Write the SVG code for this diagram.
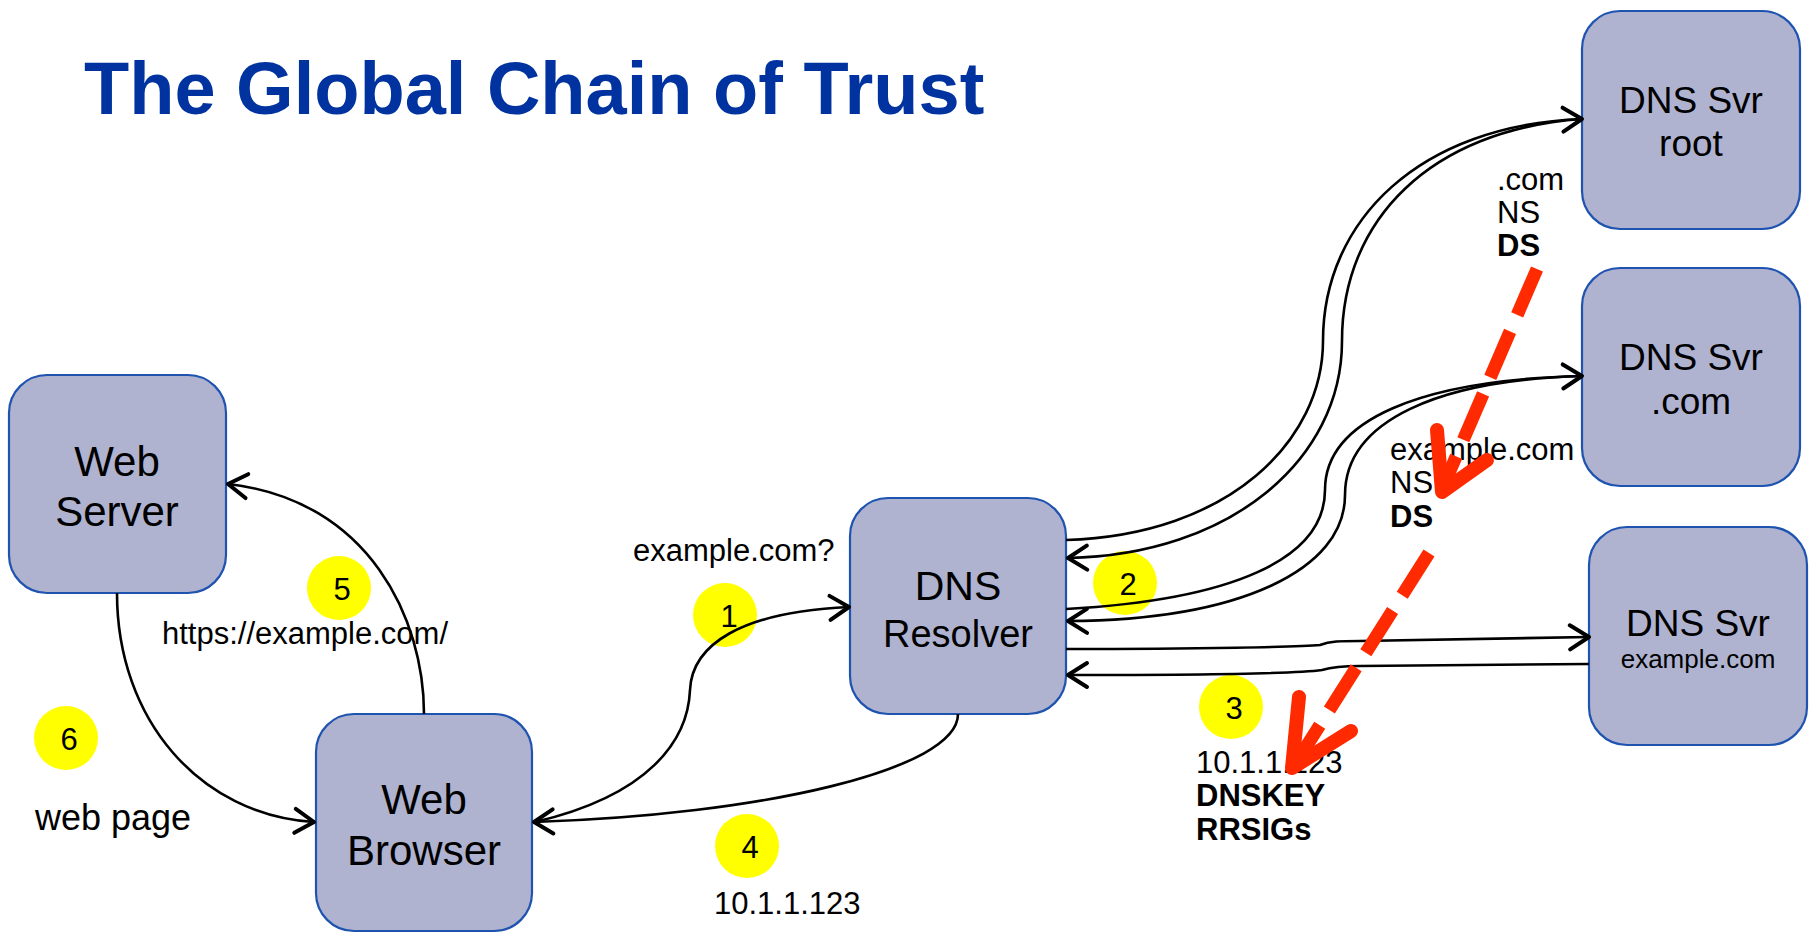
<svg xmlns="http://www.w3.org/2000/svg" width="1810" height="933" viewBox="0 0 1810 933">
<defs>
<style>
.node{fill:#afb3d0;stroke:#1f53b0;stroke-width:2.2}
.nt{font-family:"Liberation Sans",Arial,sans-serif;font-size:42px;fill:#000;text-anchor:middle}
.st{font-family:"Liberation Sans",Arial,sans-serif;font-size:37px;fill:#000;text-anchor:middle}
.lb{font-family:"Liberation Sans",Arial,sans-serif;font-size:31px;fill:#000}
.b{font-weight:bold}
.num{font-family:"Liberation Sans",Arial,sans-serif;font-size:31px;fill:#000;text-anchor:middle}
.dot{fill:#ffff00}
.con{fill:none;stroke:#000;stroke-width:2.6}
.red{fill:none;stroke:#ff2a00;stroke-width:13;stroke-dasharray:50 18}
.redh{fill:none;stroke:#ff2a00;stroke-width:14;stroke-linecap:round;stroke-linejoin:round}
</style>
<marker id="ah" markerUnits="userSpaceOnUse" markerWidth="30" markerHeight="30" viewBox="0 0 30 30" refX="27" refY="15" orient="auto">
<path d="M8,3 L27,15 L8,27" fill="none" stroke="#000" stroke-width="4" stroke-linecap="round" stroke-linejoin="round"/>
</marker>
</defs>
<rect width="1810" height="933" fill="#fff"/>
<text x="84" y="114" font-family="'Liberation Sans',Arial,sans-serif" font-size="74" font-weight="bold" fill="#0033a0">The Global Chain of Trust</text>

<g id="steps">
<ellipse class="dot" cx="725" cy="615" rx="32" ry="32"/>
<text class="num" x="729" y="627">1</text>
<ellipse class="dot" cx="1125" cy="583" rx="32" ry="32"/>
<text class="num" x="1128" y="595">2</text>
<ellipse class="dot" cx="1231" cy="707" rx="32" ry="32"/>
<text class="num" x="1234" y="719">3</text>
<ellipse class="dot" cx="747" cy="846" rx="32" ry="32"/>
<text class="num" x="750" y="858">4</text>
<ellipse class="dot" cx="339" cy="588" rx="32" ry="32"/>
<text class="num" x="342" y="600">5</text>
<ellipse class="dot" cx="66" cy="738" rx="32" ry="32"/>
<text class="num" x="69" y="750">6</text>
</g>

<g id="labels">
<text class="lb" x="633" y="561">example.com?</text>
<text class="lb" x="162" y="644">https://example.com/</text>
<text class="lb" x="35" y="830" style="font-size:36px">web page</text>
<text class="lb" x="714" y="914">10.1.1.123</text>
<text class="lb" x="1497" y="190">.com</text>
<text class="lb" x="1497" y="223">NS</text>
<text class="lb b" x="1497" y="256">DS</text>
<text class="lb" x="1390" y="460">example.com</text>
<text class="lb" x="1390" y="493">NS</text>
<text class="lb b" x="1390" y="527">DS</text>
<text class="lb" x="1196" y="773">10.1.1.123</text>
<text class="lb b" x="1196" y="806">DNSKEY</text>
<text class="lb b" x="1196" y="840">RRSIGs</text>
</g>

<g id="web-server">
<rect class="node" x="9" y="375" width="217" height="218" rx="38"/>
<text class="nt" x="117" y="476">Web</text>
<text class="nt" x="117" y="526">Server</text>
</g>
<g id="web-browser">
<rect class="node" x="316" y="714" width="216" height="217" rx="38"/>
<text class="nt" x="424" y="814">Web</text>
<text class="nt" x="424" y="865">Browser</text>
</g>
<g id="dns-resolver">
<rect class="node" x="850" y="498" width="216" height="216" rx="38"/>
<text class="nt" x="958" y="600" style="font-size:41px">DNS</text>
<text class="nt" x="958" y="647" style="font-size:38px">Resolver</text>
</g>
<g id="dns-root">
<rect class="node" x="1582" y="11" width="218" height="218" rx="38"/>
<text class="st" x="1691" y="113">DNS Svr</text>
<text class="st" x="1691" y="156">root</text>
</g>
<g id="dns-com">
<rect class="node" x="1582" y="268" width="218" height="218" rx="38"/>
<text class="st" x="1691" y="370">DNS Svr</text>
<text class="st" x="1691" y="414">.com</text>
</g>
<g id="dns-example">
<rect class="node" x="1589" y="527" width="218" height="218" rx="38"/>
<text class="st" x="1698" y="636">DNS Svr</text>
<text class="st" x="1698" y="668" style="font-size:26px">example.com</text>
</g>

<g id="connectors">
<path class="con" marker-end="url(#ah)" d="M1066,540 C1230,535 1323,440 1323,341 C1323,220 1420,125 1582,119"/>
<path class="con" marker-end="url(#ah)" d="M1582,119 C1430,130 1342,220 1342,341 C1342,460 1230,555 1068,558"/>
<path class="con" marker-end="url(#ah)" d="M1066,609 C1230,600 1325,560 1325,490 C1325,420 1420,380 1582,376"/>
<path class="con" marker-end="url(#ah)" d="M1582,376 C1440,380 1345,420 1345,495 C1345,570 1240,620 1068,621"/>
<path class="con" marker-end="url(#ah)" d="M1066,649 C1200,649 1300,647 1320,645 C1330,641 1340,641 1360,641 L1589,637"/>
<path class="con" marker-end="url(#ah)" d="M1589,664 L1360,666 C1340,666 1332,667 1322,670 C1300,673 1200,675 1068,675"/>
<path class="con" marker-end="url(#ah)" d="M535,822 C650,795 688,740 690,690 C692,645 740,612 849,607"/>
<path class="con" marker-end="url(#ah)" d="M958,714 C958,770 760,815 534,822"/>
<path class="con" marker-end="url(#ah)" d="M424,714 C424,620 370,500 228,484"/>
<path class="con" marker-end="url(#ah)" d="M117,593 C117,720 200,815 314,822"/>
</g>

<g id="chain">
<path class="red" d="M1537,269 L1446,480"/>
<polyline class="redh" points="1437,430 1442,492 1487,460"/>
<path class="red" d="M1429,553 L1299,758"/>
<polyline class="redh" points="1299,697 1292,768 1351,731"/>
</g>
</svg>
